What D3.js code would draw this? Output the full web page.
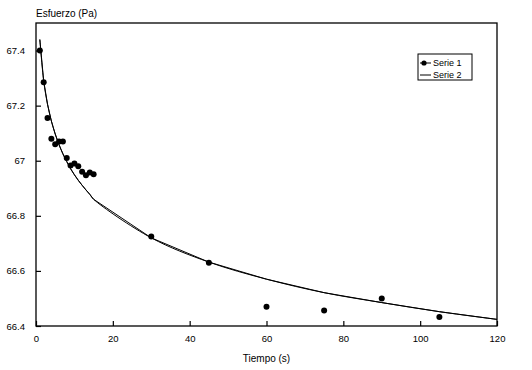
<!DOCTYPE html>
<html><head><meta charset="utf-8">
<script src="https://cdn.jsdelivr.net/npm/d3@7"></script>
<style>
html,body{margin:0;padding:0;background:#fff;}
svg{display:block;font-family:"Liberation Sans",Arial,sans-serif;}
</style></head>
<body><svg id="c" width="532" height="370"></svg>
<script>
// Serie 1 (measured points)
const serie1X = [1,2,3,4,5,6,7,8,9,10,11,12,13,14,15,30,45,60,75,90,105];
const serie1Y = [67.40,67.285,67.155,67.08,67.06,67.07,67.07,67.01,66.983,66.99,66.98,66.96,66.947,66.957,66.951,66.725,66.63,66.47,66.456,66.50,66.433];
// Serie 2 (fitted curve)
const serie2X = [1,2,3,4,5,6,7,8,9,10,11,12,13,14,15,30,45,60,75,90,105,120];
const serie2Y = [67.44,67.29,67.205,67.144,67.097,67.058,67.025,66.997,66.971,66.949,66.929,66.911,66.894,66.878,66.86,66.72,66.632,66.57,66.521,66.485,66.452,66.424];
const xTicks = [0,20,40,60,80,100,120];
const yTicks = [66.4,66.6,66.8,67,67.2,67.4];
const yTickLabels = ["66.4","66.6","66.8","67","67.2","67.4"];
const seriesNames = ["Serie 1","Serie 2"];
const xTitle = "Tiempo (s)";
const yTitle = "Esfuerzo (Pa)";

const svg = d3.select("#c");
const L=36, R=497, T=23, B=326;
const x = d3.scaleLinear().domain([0,120]).range([L,R]);
const y = d3.scaleLinear().domain([66.4,67.5]).range([B,T]);

svg.append("rect").attr("width",532).attr("height",370).attr("fill","#fff");

const xa = svg.append("g").attr("transform",`translate(0,${B})`)
  .call(d3.axisBottom(x).tickValues(xTicks).tickSizeInner(-5).tickSizeOuter(0).tickPadding(9).tickFormat(d3.format("d")));
const ya = svg.append("g").attr("transform",`translate(${L},0)`)
  .call(d3.axisLeft(y).tickValues(yTicks).tickSizeInner(-5).tickSizeOuter(0).tickPadding(11).tickFormat((d,i)=>yTickLabels[i]));
[xa,ya].forEach(g=>{
  g.select(".domain").remove();
  g.selectAll("line").attr("stroke","#000").attr("stroke-width",1.2);
  g.selectAll("text").attr("font-size","9.5px").attr("fill","#000").attr("font-family",'"Liberation Sans",Arial,sans-serif');
});

// frame
svg.append("rect").attr("x",L).attr("y",T).attr("width",R-L).attr("height",B-T)
  .attr("fill","none").attr("stroke","#000").attr("stroke-width",1.3);

// titles
svg.append("text").attr("x",(L+R)/2).attr("y",362).attr("text-anchor","middle")
  .attr("font-size","10px").text(xTitle);
svg.append("text").attr("x",L).attr("y",17).attr("text-anchor","start")
  .attr("font-size","10px").text(yTitle);

// Serie 2 lines
const s2 = serie2X.map((v,i)=>[v,serie2Y[i]]);
const lineLin = d3.line().x(d=>x(d[0])).y(d=>y(d[1]));
const lineSmooth = d3.line().x(d=>x(d[0])).y(d=>y(d[1])).curve(d3.curveCatmullRom.alpha(0.5));
svg.append("path").attr("d",lineLin(s2)).attr("fill","none").attr("stroke","#000").attr("stroke-width",1);
svg.append("path").attr("d",lineSmooth(s2)).attr("fill","none").attr("stroke","#000").attr("stroke-width",1);

// Serie 1 points
svg.append("g").selectAll("circle").data(serie1X.map((v,i)=>[v,serie1Y[i]])).join("circle")
  .attr("cx",d=>x(d[0])).attr("cy",d=>y(d[1])).attr("r",3).attr("fill","#000");

// legend
const lg = svg.append("g");
lg.append("rect").attr("x",418).attr("y",54).attr("width",54).attr("height",26)
  .attr("fill","#fff").attr("stroke","#000").attr("stroke-width",1);
seriesNames.forEach((name,i)=>{
  const yy = 63 + i*12;
  lg.append("line").attr("x1",420).attr("x2",431).attr("y1",yy).attr("y2",yy).attr("stroke","#000").attr("stroke-width",1);
  if(i===0) lg.append("circle").attr("cx",424).attr("cy",yy).attr("r",2.6).attr("fill","#000");
  lg.append("text").attr("x",433).attr("y",yy+3.3).attr("font-size","9px").text(name);
});
</script></body></html>
